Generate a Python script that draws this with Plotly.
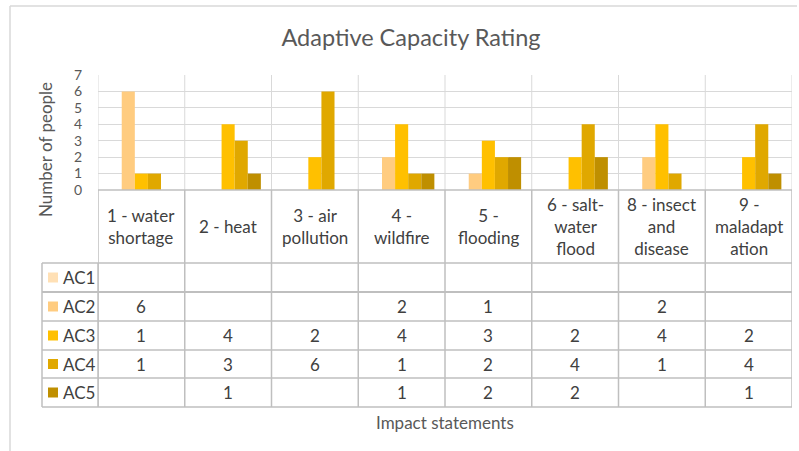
import plotly.graph_objects as go

categories = ["1 - water<br>shortage", "2 - heat", "3 - air<br>pollution", "4 -<br>wildfire",
              "5 -<br>flooding", "6 - salt-<br>water<br>flood", "8 - insect<br>and<br>disease",
              "9 -<br>maladapt<br>ation"]
series_names = ["AC1", "AC2", "AC3", "AC4", "AC5"]
ac1 = [None, None, None, None, None, None, None, None]
ac2 = [6, None, None, 2, 1, None, 2, None]
ac3 = [1, 4, 2, 4, 3, 2, 4, 2]
ac4 = [1, 3, 6, 1, 2, 4, 1, 4]
ac5 = [None, 1, None, 1, 2, 2, None, 1]
y_ticks = [0, 1, 2, 3, 4, 5, 6, 7]

series_values = [ac1, ac2, ac3, ac4, ac5]
colors = ["#FFE0B5", "#FFCC80", "#FFC000", "#E0A800", "#BF8F00"]

W, H = 799, 451
L, R, T, B = 98, 792, 75, 190
FONT = "Lato, Carlito, Calibri, sans-serif"
TXT = "#404040"
GRID = "#D9D9D9"
TBL = "#BFBFBF"
FS = 17


def px_x(p):
    return (p - L) / (R - L)


def px_y(p):
    return (B - p) / (B - T)


fig = go.Figure()
for name, vals, col in zip(series_names, series_values, colors):
    fig.add_trace(go.Bar(x=categories, y=vals, name=name, marker=dict(color=col, line=dict(width=0)),
                         showlegend=False, hoverinfo="x+y+name"))

shapes = []
annotations = []

# outer chart border
shapes.append(dict(type="line", xref="paper", yref="paper", x0=px_x(10), x1=px_x(797), y0=px_y(6), y1=px_y(6),
                   line=dict(color=GRID, width=1.5)))
shapes.append(dict(type="line", xref="paper", yref="paper", x0=px_x(10), x1=px_x(10), y0=px_y(6), y1=px_y(451),
                   line=dict(color=GRID, width=1.5)))

n = len(categories)
header_bottom = 263
row_edges = [263, 292, 321, 350, 378, 407]

# vertical grid lines in plot area and table
for i in range(n + 1):
    shapes.append(dict(type="line", xref="x", yref="paper", x0=i - 0.5, x1=i - 0.5, y0=0, y1=1,
                       line=dict(color=GRID, width=1), layer="below"))
    shapes.append(dict(type="line", xref="x", yref="paper", x0=i - 0.5, x1=i - 0.5, y0=0, y1=px_y(row_edges[-1]),
                       line=dict(color=TBL, width=1.5)))

# table horizontal lines
for k, ry in enumerate(row_edges):
    shapes.append(dict(type="line", xref="paper", yref="paper", x0=px_x(42), x1=1, y0=px_y(ry), y1=px_y(ry),
                       line=dict(color=TBL, width=2 if k == 1 else 1.5)))
# left legend column verticals
for xp in (42, L):
    shapes.append(dict(type="line", xref="paper", yref="paper", x0=px_x(xp), x1=px_x(xp),
                       y0=px_y(row_edges[0]), y1=px_y(row_edges[-1]), line=dict(color=TBL, width=1.5)))
# axis baseline
shapes.append(dict(type="line", xref="paper", yref="paper", x0=0, x1=1, y0=0, y1=0,
                   line=dict(color=TBL, width=1.5)))

# header labels
for c in categories:
    annotations.append(dict(x=c, xref="x", yref="paper", y=px_y((B + header_bottom) / 2), text=c,
                            showarrow=False, font=dict(size=FS, color=TXT, family=FONT),
                            xanchor="center", yanchor="middle", align="center"))

# legend keys and values
for k, (name, vals, col) in enumerate(zip(series_names, series_values, colors)):
    yc = (row_edges[k] + row_edges[k + 1]) / 2
    shapes.append(dict(type="rect", xref="paper", yref="paper", x0=px_x(48), x1=px_x(58),
                       y0=px_y(yc - 5), y1=px_y(yc + 5), fillcolor=col, line=dict(width=0)))
    annotations.append(dict(x=px_x(61), xref="paper", yref="paper", y=px_y(yc), text=name, showarrow=False,
                            xanchor="left", yanchor="middle", font=dict(size=FS, color=TXT, family=FONT)))
    for c, v in zip(categories, vals):
        if v is not None:
            annotations.append(dict(x=c, xref="x", yref="paper", y=px_y(yc), text=str(v), showarrow=False,
                                    xanchor="center", yanchor="middle",
                                    font=dict(size=FS, color=TXT, family=FONT)))

# axis titles
annotations.append(dict(x=px_x(445), xref="paper", yref="paper", y=px_y(422), text="Impact statements",
                        showarrow=False, xanchor="center", yanchor="middle",
                        font=dict(size=FS, color="#595959", family=FONT)))
annotations.append(dict(x=px_x(45), xref="paper", yref="paper", y=px_y(150), text="Number of people",
                        showarrow=False, xanchor="center", yanchor="middle", textangle=-90,
                        font=dict(size=FS, color="#595959", family=FONT)))

fig.update_layout(
    width=W, height=H,
    margin=dict(l=L, r=W - R, t=T, b=H - B, pad=0),
    paper_bgcolor="white", plot_bgcolor="white",
    barmode="group", bargap=0.245, bargroupgap=0,
    title=dict(text="Adaptive Capacity Rating", x=px_x(411), xref="paper", xanchor="center",
               y=1 - 38 / H, yanchor="middle", font=dict(size=23.5, color="#595959", family=FONT)),
    xaxis=dict(showticklabels=False, showgrid=False, zeroline=False, showline=False, ticks="",
               range=[-0.5, n - 0.5]),
    yaxis=dict(range=[0, 7], tickvals=y_ticks, showgrid=True, gridcolor=GRID, gridwidth=1, zeroline=False,
               showline=False, ticks="", tickfont=dict(size=14, color="#595959", family=FONT),
               ticklabelstandoff=15),
    shapes=shapes, annotations=annotations,
    font=dict(family=FONT),
)

fig.write_html("out.html", post_script="document.body.style.margin='0';",
               config={"displayModeBar": False})
